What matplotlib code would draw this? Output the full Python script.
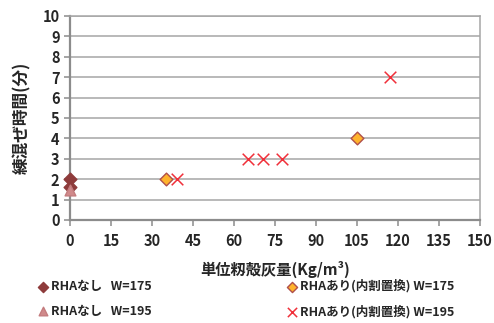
import matplotlib
matplotlib.use("Agg")
import matplotlib.pyplot as plt

plt.rcParams['font.family'] = ['Noto Sans CJK JP', 'DejaVu Sans']

# Series data: ash content (kg/m3) vs. mixing time (min)
nashi175_x = [0, 0]
nashi175_y = [2, 1.6]
nashi195_x = [0]
nashi195_y = [1.45]
ari175_x = [35, 105]
ari175_y = [2, 4]
ari195_x = [39, 65, 70.5, 77.5, 117]
ari195_y = [2, 3, 3, 3, 7]

x_ticks = [0, 15, 30, 45, 60, 75, 90, 105, 120, 135, 150]
y_ticks = list(range(0, 11))

labels = ['RHAなし   W=175', 'RHAなし   W=195',
          'RHAあり(内割置換) W=175', 'RHAあり(内割置換) W=195']

fig = plt.figure(figsize=(4.94, 3.23), dpi=100)
ax = fig.add_axes([70/494, 1 - 220/323, 410/494, 204/323])

grid_c = '#A6A6A6'
ax.set_xlim(0, 150)
ax.set_ylim(0, 10)
ax.set_xticks(x_ticks)
ax.set_yticks(y_ticks)
ax.grid(axis='y', color=grid_c, linewidth=1.1)
ax.set_axisbelow(True)
for s in ax.spines.values():
    s.set_color(grid_c)
    s.set_linewidth(1.1)
ax.spines['left'].set_color('#8C8C8C')
ax.spines['bottom'].set_color('#8C8C8C')
ax.spines['left'].set_linewidth(1.6)
ax.spines['bottom'].set_linewidth(1.6)
ax.tick_params(axis='both', colors='#8C8C8C', length=4, width=1.1,
               labelcolor='#262626', labelsize=10.5)
ax.tick_params(axis='x', pad=5)
for t in ax.get_xticklabels() + ax.get_yticklabels():
    t.set_fontweight('bold')

h1 = ax.scatter(nashi175_x, nashi175_y, marker='D', s=42, color='#8E3B3B',
                edgecolors='#8E3B3B', zorder=3, clip_on=False)
h2 = ax.scatter(nashi195_x, nashi195_y, marker='^', s=60, color='#D08A8B',
                edgecolors='#C47C7E', zorder=4, clip_on=False)
h3 = ax.scatter(ari175_x, ari175_y, marker='D', s=42, color='#FFB32C',
                edgecolors='#B0504A', linewidths=1.0, zorder=3)
h4 = ax.scatter(ari195_x, ari195_y, marker='x', s=70, color='#F0303A',
                linewidths=1.1, zorder=3)

ax.set_xlabel('単位籾殻灰量(Kg/m³)', fontsize=11, fontweight='bold',
              color='#262626', labelpad=9)
ax.set_ylabel('練混ぜ時間(分)', fontsize=12, fontweight='bold',
              color='#262626', labelpad=8)

leg = fig.legend([h1, h2, h3, h4], labels, ncol=2, loc='lower left',
                 bbox_to_anchor=(24/494, -0.02), frameon=False,
                 prop={'weight': 'bold', 'size': 9},
                 columnspacing=10.6, handletextpad=0.05, labelspacing=0.95,
                 handlelength=1.2, markerscale=0.8)
for t in leg.get_texts():
    t.set_color('#262626')

fig.savefig('out.png', dpi=100)
